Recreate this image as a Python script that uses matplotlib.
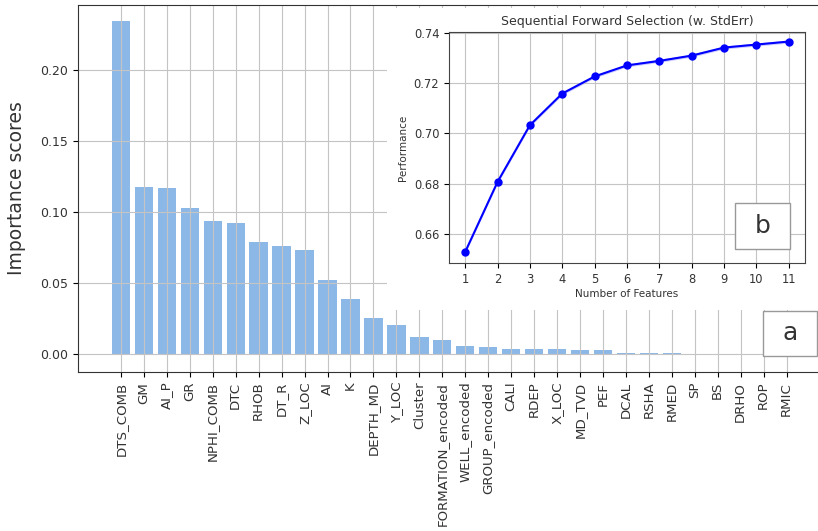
import matplotlib
matplotlib.use('agg')
import matplotlib.pyplot as plt
from matplotlib.patches import Rectangle

# feature importances (sorted)
features = ['DTS_COMB', 'GM', 'AI_P', 'GR', 'NPHI_COMB', 'DTC', 'RHOB', 'DT_R',
            'Z_LOC', 'AI', 'K', 'DEPTH_MD', 'Y_LOC', 'Cluster',
            'FORMATION_encoded', 'WELL_encoded', 'GROUP_encoded', 'CALI',
            'RDEP', 'X_LOC', 'MD_TVD', 'PEF', 'DCAL', 'RSHA', 'RMED', 'SP',
            'BS', 'DRHO', 'ROP', 'RMIC']
importances = [0.2347, 0.1174, 0.1167, 0.1026, 0.0934, 0.0923, 0.0786, 0.0761,
               0.0732, 0.0518, 0.0387, 0.0256, 0.0206, 0.0123,
               0.0097, 0.0057, 0.0047, 0.0037,
               0.0037, 0.0037, 0.0028, 0.0026, 0.0009, 0.0008, 0.0008, 0.0,
               0.0, 0.0, 0.0, 0.0]

# sequential forward selection scores
n_features = [1, 2, 3, 4, 5, 6, 7, 8, 9, 10, 11]
performance = [0.6528, 0.6807, 0.7033, 0.7159, 0.7227, 0.7271, 0.7289,
               0.7310, 0.7342, 0.7354, 0.7366]
std_err = [0.0006, 0.0006, 0.0006, 0.0006, 0.0006, 0.0006, 0.0006,
           0.0006, 0.0006, 0.0006, 0.0006]

W, H = 818, 531
fig = plt.figure(figsize=(W / 100, H / 100), dpi=100)

def px(x0, y0, x1, y1):
    # pixel box -> figure fraction [left, bottom, width, height]
    return [x0 / W, 1 - y1 / H, (x1 - x0) / W, (y1 - y0) / H]

# (a) importance scores
ax = fig.add_axes(px(78, 5, 829.5, 372))
pos = list(range(len(features)))
ax.bar(pos, importances, width=0.8, color='#1a73d1', alpha=0.5)
ax.grid(True, color='#c4c4c4', lw=0.8)
ax.set_xlim(-1.87, 30.87)
ax.set_ylim(-0.0127, 0.2458)
ax.set_xticks(pos)
ax.set_xticklabels(features, rotation=90, fontsize=9.6, color='#333333')
ax.set_yticks([0.0, 0.05, 0.10, 0.15, 0.20])
ax.set_yticklabels(['0.00', '0.05', '0.10', '0.15', '0.20'], fontsize=9, color='#333333')
ax.set_ylabel('Importance scores', fontsize=13.5, color='#333333', labelpad=10)
for s in ax.spines.values():
    s.set_color('#333333')

# white panel behind the inset
fig.patches.append(Rectangle((387 / W, 1 - 310 / H), (W - 387) / W, 302 / H,
                             transform=fig.transFigure, facecolor='white',
                             edgecolor='none', zorder=1))

# (b) sequential forward selection
ins = fig.add_axes(px(449, 32, 805, 263))
ins.set_zorder(2)
lo = [p - e for p, e in zip(performance, std_err)]
hi = [p + e for p, e in zip(performance, std_err)]
ins.fill_between(n_features, lo, hi, color='blue', alpha=0.2, lw=0)
ins.plot(n_features, performance, color='blue', marker='o', markersize=5, lw=1.5)
ins.grid(True, color='#c4c4c4', lw=0.8)
ins.set_xticks(n_features)
ins.set_yticks([0.66, 0.68, 0.70, 0.72, 0.74])
ins.set_xlim(0.5, 11.5)
ins.set_ylim(0.6484, 0.7404)
ins.tick_params(labelsize=8.3, labelcolor='#333333')
ins.set_title('Sequential Forward Selection (w. StdErr)', fontsize=9, color='#333333', pad=5)
ins.set_xlabel('Number of Features', fontsize=7.5, color='#333333', labelpad=2)
ins.set_ylabel('Performance', fontsize=7.5, color='#333333')
for s in ins.spines.values():
    s.set_color('#444444')

# panel letters
def letter_box(x0, y0, x1, y1, text):
    fig.patches.append(Rectangle((x0 / W, 1 - y1 / H), (x1 - x0) / W, (y1 - y0) / H,
                                 transform=fig.transFigure, facecolor='white',
                                 edgecolor='#999999', lw=1, zorder=3))
    fig.text((x0 + x1) / 2 / W, 1 - (y0 + y1) / 2 / H, text, fontsize=18,
             color='#333333', ha='center', va='center', zorder=4)

letter_box(763, 311, 817, 356, 'a')
letter_box(735, 203, 790, 249, 'b')

fig.savefig('out.png', dpi=100)
plt.close(fig)
